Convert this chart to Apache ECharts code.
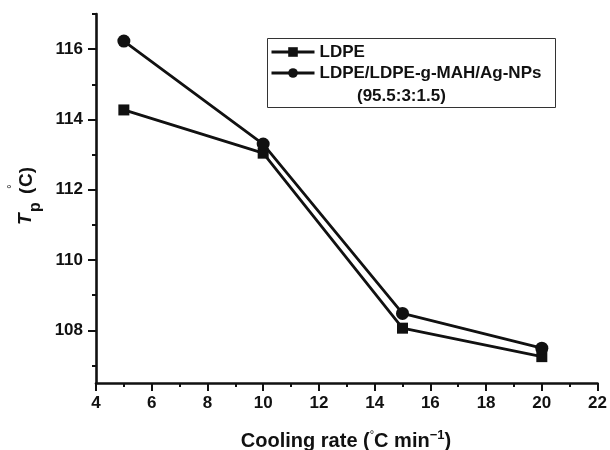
<!DOCTYPE html>
<html>
<head>
<meta charset="utf-8">
<script src="https://cdn.jsdelivr.net/npm/echarts@6/dist/echarts.min.js"></script>
<style>
html,body{margin:0;padding:0;background:#fff;}
#c{width:610px;height:450px;}
</style>
</head>
<body>
<div id="c"></div>
<script>
// Data
const coolingRates = [5, 10, 15, 20];
const ldpe = [114.27, 113.04, 108.06, 107.25];
const composite = [116.23, 113.30, 108.48, 107.49];
const seriesNames = ['LDPE', 'LDPE/LDPE-g-MAH/Ag-NPs'];
const legendExtra = '(95.5:3:1.5)';
const yMajorTicks = [108, 110, 112, 114, 116];
const yMinorTicks = [107, 109, 111, 113, 115, 117];

const FONT = '"Liberation Sans", Arial, sans-serif';
const TXT = '#111';

const chart = echarts.init(document.getElementById('c'), null, {renderer: 'canvas'});

const pairs = a => coolingRates.map((x, i) => [x, a[i]]);

const option = {
  animation: false,
  backgroundColor: '#fff',
  grid: {left: 96, right: 12, top: 14, bottom: 67},
  legend: {
    orient: 'vertical',
    left: 270,
    top: 42,
    itemWidth: 43,
    itemHeight: 12,
    itemGap: 1,
    padding: 0,
    lineStyle: {width: 3, color: '#111'},
    textStyle: {fontFamily: FONT, fontWeight: 'bold', fontSize: 17, color: TXT, lineHeight: 20},
    data: seriesNames
  },
  xAxis: {
    type: 'value',
    min: 4, max: 22, interval: 2,
    axisLine: {show: true, onZero: false, lineStyle: {color: '#111', width: 2.6}},
    axisTick: {show: true, inside: false, length: 8, lineStyle: {color: '#111', width: 2}},
    minorTick: {show: true, splitNumber: 2, length: 4, lineStyle: {color: '#111', width: 2}},
    splitLine: {show: false},
    minorSplitLine: {show: false},
    axisLabel: {fontFamily: FONT, fontWeight: 'bold', fontSize: 17, color: TXT, margin: 12}
  },
  yAxis: [{
    type: 'value',
    min: 106.5, max: 117,
    position: 'left',
    axisLine: {show: true, onZero: false, lineStyle: {color: '#111', width: 2.6}},
    axisTick: {show: true, inside: false, length: 8, customValues: yMajorTicks, lineStyle: {color: '#111', width: 2}},
    splitLine: {show: false},
    axisLabel: {customValues: yMajorTicks, fontFamily: FONT, fontWeight: 'bold', fontSize: 17, color: TXT, margin: 13}
  }, {
    type: 'value',
    min: 106.5, max: 117,
    position: 'left',
    offset: 0,
    axisLine: {show: false},
    axisTick: {show: true, inside: false, length: 4, customValues: yMinorTicks, lineStyle: {color: '#111', width: 2}},
    splitLine: {show: false},
    axisLabel: {show: false}
  }],
  series: [{
    name: seriesNames[0],
    type: 'line',
    data: pairs(ldpe),
    symbol: 'rect',
    symbolSize: 11,
    lineStyle: {color: '#111', width: 2.8},
    itemStyle: {color: '#111'}
  }, {
    name: seriesNames[1],
    type: 'line',
    data: pairs(composite),
    symbol: 'circle',
    symbolSize: 13,
    lineStyle: {color: '#111', width: 2.8},
    itemStyle: {color: '#111'}
  }],
  graphic: [
    {type: 'rect', shape: {x: 267.5, y: 38.5, width: 288, height: 69}, style: {fill: 'none', stroke: '#333', lineWidth: 1}, z: 10},
    {type: 'text', x: 357, y: 96, style: {text: legendExtra, fontFamily: FONT, fontWeight: 'bold', fontSize: 17, fill: TXT, textAlign: 'left', textVerticalAlign: 'middle'}, z: 10},
    {type: 'text', x: 346, y: 441, style: {
      text: '{a|Cooling rate (}{d|°}{a|C min}{s|−1}{a|)}',
      textAlign: 'center', textVerticalAlign: 'middle',
      rich: {
        a: {fontFamily: FONT, fontWeight: 'bold', fontSize: 20, fill: TXT, lineHeight: 24},
        d: {fontFamily: FONT, fontWeight: 'normal', fontSize: 11, fill: TXT, lineHeight: 10, verticalAlign: 'top'},
        s: {fontFamily: FONT, fontWeight: 'bold', fontSize: 13, fill: TXT, lineHeight: 12, verticalAlign: 'top'}
      }
    }, z: 10},
    {type: 'text', x: 26, y: 225, rotation: Math.PI / 2, style: {text: 'T', fontFamily: FONT, fontWeight: 'bold', fontStyle: 'italic', fontSize: 19, fill: TXT, textAlign: 'left', textVerticalAlign: 'middle'}, z: 10},
    {type: 'text', x: 36, y: 212, rotation: Math.PI / 2, style: {text: 'p', fontFamily: FONT, fontWeight: 'bold', fontSize: 16, fill: TXT, textAlign: 'left', textVerticalAlign: 'middle'}, z: 10},
    {type: 'text', x: 27, y: 194, rotation: Math.PI / 2, style: {text: '(', fontFamily: FONT, fontWeight: 'bold', fontSize: 19, fill: TXT, textAlign: 'left', textVerticalAlign: 'middle'}, z: 10},
    {type: 'text', x: 13, y: 189, rotation: Math.PI / 2, style: {text: '°', fontFamily: FONT, fontWeight: 'normal', fontSize: 12, fill: TXT, textAlign: 'left', textVerticalAlign: 'middle'}, z: 10},
    {type: 'text', x: 27, y: 187, rotation: Math.PI / 2, style: {text: 'C)', fontFamily: FONT, fontWeight: 'bold', fontSize: 19, fill: TXT, textAlign: 'left', textVerticalAlign: 'middle'}, z: 10}
  ]
};

chart.setOption(option);
</script>
</body>
</html>
